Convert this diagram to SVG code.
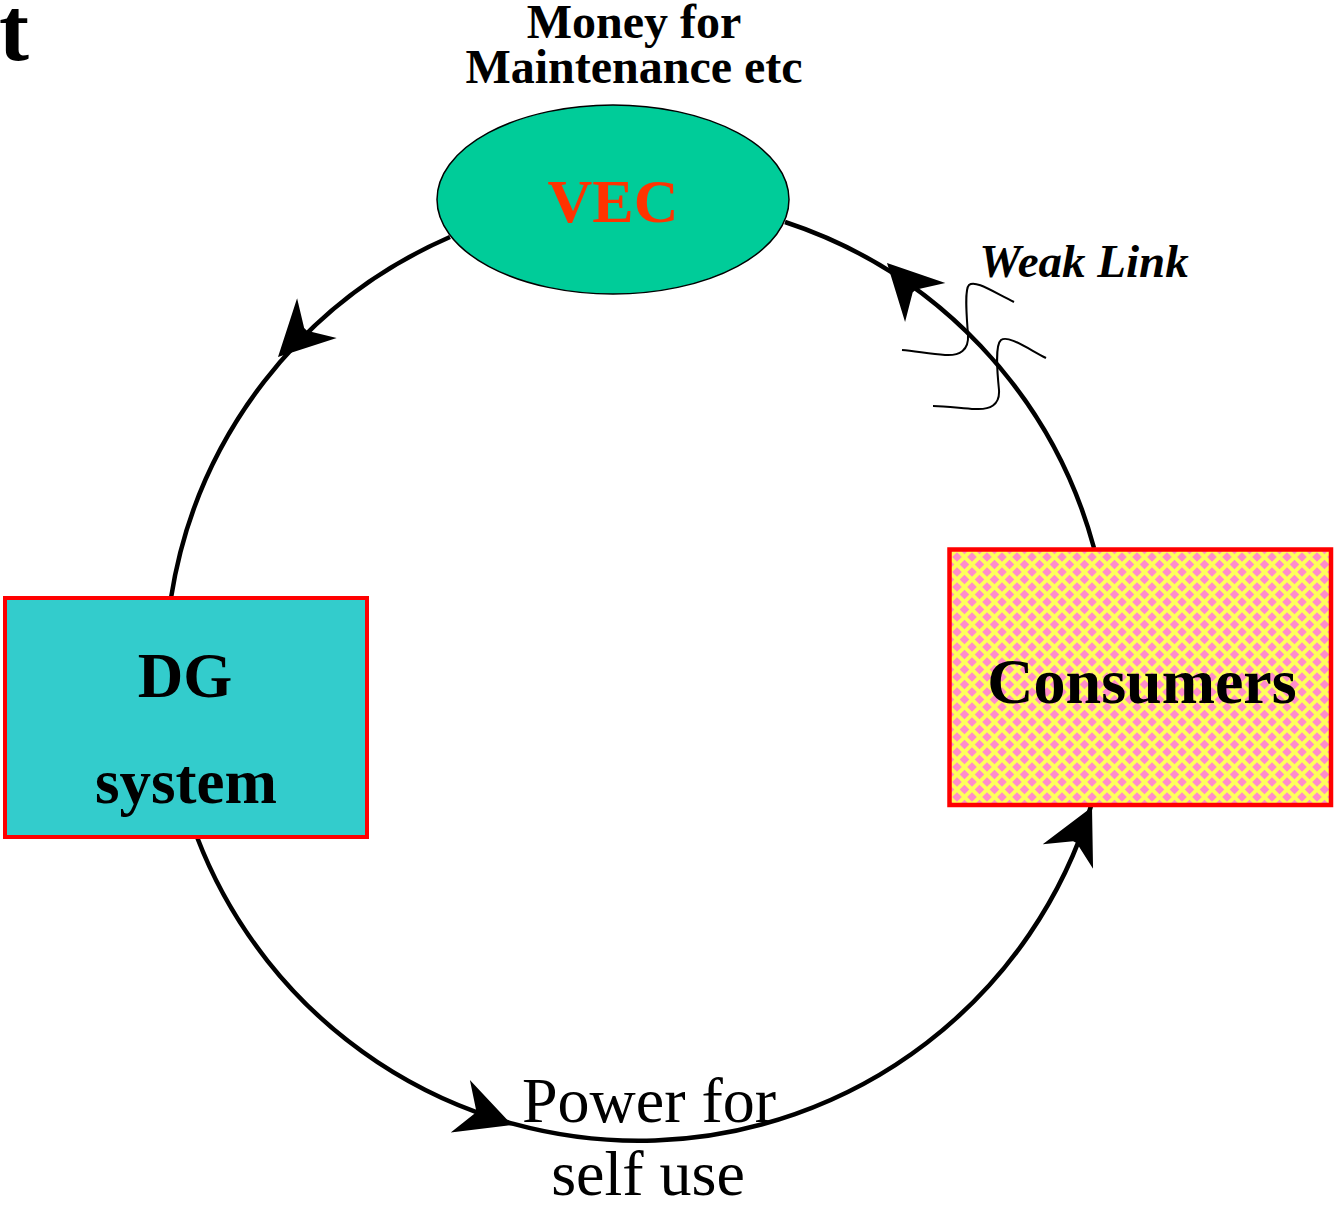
<svg xmlns="http://www.w3.org/2000/svg" width="1334" height="1205" viewBox="0 0 1334 1205">
<style>
.arc{fill:none;stroke:#000;stroke-width:4.5}
.sq{fill:none;stroke:#000;stroke-width:2}
.ah{fill:#000;stroke:none}
.bs{font-family:"Liberation Serif","Times New Roman",serif;font-weight:bold}
.rs{font-family:"Liberation Serif","Times New Roman",serif}
</style>
<defs>
<pattern id="dia" patternUnits="userSpaceOnUse" x="957" y="557" width="15" height="15">
<rect width="15" height="15" fill="#ffff5a"/>
<path d="M0,-4.8 L4.8,0 L0,4.8 L-4.8,0Z M15,-4.8 L19.8,0 L15,4.8 L10.2,0Z M0,10.2 L4.8,15 L0,19.8 L-4.8,15Z M15,10.2 L19.8,15 L15,19.8 L10.2,15Z M7.5,2.7 L12.3,7.5 L7.5,12.3 L2.7,7.5Z" fill="#ff8ccb"/>
</pattern>
<path id="head" d="M0,0 L-55,-28 L-39,-2 L-39,2 L-55,28 Z"/>
</defs>
<rect width="1334" height="1205" fill="#fff"/>
<text class="bs" x="-1" y="60" font-size="90">t</text>
<g id="connectors">
<path class="arc" d="M450,237 A473,473 0 0,0 171,598"/>
<path class="arc" d="M197,837 A473,473 0 0,0 1091,806"/>
<path class="arc" d="M1094,548 A473,473 0 0,0 785,222"/>
<use href="#head" class="ah" transform="translate(278,357) rotate(135)"/>
<use href="#head" class="ah" transform="translate(887,263) rotate(-134)"/>
<use href="#head" class="ah" transform="translate(512,1125) rotate(20)"/>
<use href="#head" class="ah" transform="translate(1092,807) rotate(-64)"/>
</g>
<g id="weak-link">
<path class="sq" d="M1014,302 C990,290 975,280 969,285 C964,290 967,320 968,335 C969,350 960,356 945,355 C930,354 915,351 902,350"/>
<path class="sq" d="M1046,358 C1025,347 1008,335 1001,340 C995,345 997,370 999,390 C1000,405 990,410 975,409 C960,408 945,406 933,406"/>
<text class="bs" x="1084" y="277" font-size="47" font-style="italic" text-anchor="middle">Weak Link</text>
</g>
<g id="vec">
<ellipse cx="613" cy="199.5" rx="176" ry="94.5" fill="#00cc99" stroke="#000" stroke-width="1.5"/>
<text class="bs" x="613" y="222" font-size="62" fill="#ff3300" text-anchor="middle">VEC</text>
</g>
<g id="money-label">
<text class="bs" x="634" y="38" font-size="48" text-anchor="middle">Money for</text>
<text class="bs" x="634" y="83" font-size="48" text-anchor="middle">Maintenance etc</text>
</g>
<g id="dg">
<rect x="5" y="598" width="362" height="239" fill="#33cccc" stroke="#ff0000" stroke-width="4"/>
<text class="bs" x="185" y="697" font-size="63" text-anchor="middle">DG</text>
<text class="bs" x="186" y="803" font-size="63" text-anchor="middle">system</text>
</g>
<g id="consumers">
<rect x="949.5" y="549.5" width="381.5" height="255.5" fill="url(#dia)" stroke="#ff0000" stroke-width="4.5"/>
<text class="bs" x="1142" y="703" font-size="64" text-anchor="middle">Consumers</text>
</g>
<g id="power-label">
<text class="rs" x="649" y="1122" font-size="64" text-anchor="middle">Power for</text>
<text class="rs" x="648" y="1195" font-size="64" text-anchor="middle">self use</text>
</g>
</svg>
